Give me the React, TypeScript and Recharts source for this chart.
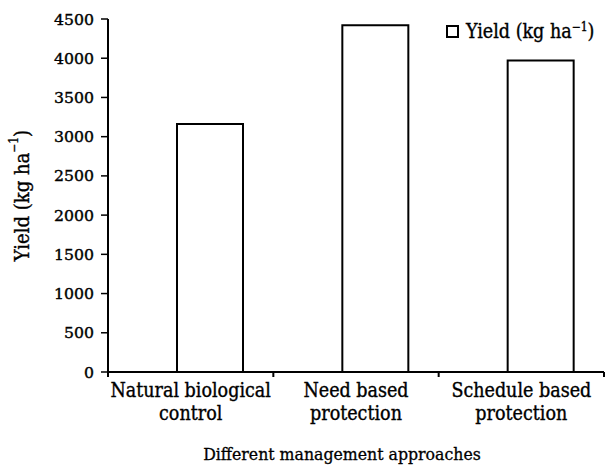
import { BarChart, Bar, XAxis, YAxis } from 'recharts';

const categories = ['Natural biological\ncontrol', 'Need based\nprotection', 'Schedule based\nprotection'];
const yieldValues = [3160, 4420, 3970];
const yTicks = [0, 500, 1000, 1500, 2000, 2500, 3000, 3500, 4000, 4500];

const WIDTH = 608;
const HEIGHT = 468;
const MARGIN = { top: 19, right: 4, bottom: 0, left: 0 };
const Y_AXIS_W = 108;
const X_AXIS_H = 96;
const PLOT_W = WIDTH - MARGIN.left - MARGIN.right - Y_AXIS_W;
const BAND = PLOT_W / categories.length;
const FONT = '"DejaVu Serif Condensed", "DejaVu Serif", serif';
const TEXT_STYLE = { fontFamily: FONT, fontStretch: 'condensed' as const };

const data = categories.map((name, i) => ({ name, yield: yieldValues[i] }));

// ticks at category boundaries, labels centered in the band
function XTick(props: any) {
  const { x, y, payload, index } = props;
  const lines = String(payload.value).split('\n');
  const right = x + BAND / 2;
  return (
    <g>
      {index === 0 && (
        <line x1={x - BAND / 2} x2={x - BAND / 2} y1={y} y2={y + 5} stroke="#000" strokeWidth={2} />
      )}
      <line x1={right} x2={right} y1={y} y2={y + 5} stroke="#000" strokeWidth={2} />
      <text
        x={x}
        y={y}
        textAnchor="middle"
        style={TEXT_STYLE}
        fontSize={19.5}
        fill="#000"
        stroke="#000"
        strokeWidth={0.35}
      >
        {lines.map((l, i) => (
          <tspan key={i} x={x} dy={i === 0 ? 25 : 23}>
            {l}
          </tspan>
        ))}
      </text>
    </g>
  );
}

function YTick(props: any) {
  const { x, y, payload } = props;
  const label = String(payload.value);
  return (
    <text
      x={x}
      y={y}
      dy={5.5}
      textAnchor="end"
      style={TEXT_STYLE}
      fontSize={15}
      fill="#000"
      stroke="#000"
      strokeWidth={0.35}
      textLength={label.length * 10}
      lengthAdjust="spacingAndGlyphs"
    >
      {label}
    </text>
  );
}

function YTitle(props: any) {
  const { viewBox } = props;
  const cx = 22;
  const cy = viewBox.y + viewBox.height / 2;
  return (
    <text
      x={cx}
      y={cy}
      transform={`rotate(-90, ${cx}, ${cy})`}
      textAnchor="middle"
      dominantBaseline="central"
      style={TEXT_STYLE}
      fontSize={20}
      fill="#000"
      stroke="#000"
      strokeWidth={0.35}
    >
      Yield (kg ha
      <tspan dy={-8} fontSize={12}>−1</tspan>
      <tspan dy={8}>)</tspan>
    </text>
  );
}

function XTitle(props: any) {
  const { viewBox } = props;
  return (
    <text
      x={viewBox.x + viewBox.width / 2 - 14}
      y={460}
      textAnchor="middle"
      style={TEXT_STYLE}
      fontSize={17.5}
      fill="#000"
      stroke="#000"
      strokeWidth={0.3}
    >
      Different management approaches
    </text>
  );
}

function LegendBox() {
  return (
    <div
      style={{
        position: 'absolute',
        left: 446,
        top: 20,
        display: 'flex',
        alignItems: 'center',
        fontFamily: FONT,
        fontStretch: 'condensed',
        fontSize: 19.5,
        color: '#000',
        whiteSpace: 'nowrap',
        WebkitTextStroke: '0.35px #000',
      }}
    >
      <span style={{ display: 'inline-block', width: 9, height: 9, border: '2px solid #000', marginRight: 7 }} />
      <span>
        Yield (kg ha<span style={{ fontSize: 12, verticalAlign: 'super', lineHeight: 0 }}>−1</span>)
      </span>
    </div>
  );
}

export default function App() {
  return (
    <div style={{ position: 'absolute', left: 0, top: 0, width: WIDTH, height: HEIGHT, background: '#fff' }}>
      <BarChart
        width={WIDTH}
        height={HEIGHT}
        data={data}
        margin={MARGIN}
        barCategoryGap={30}
        barGap={-27}
      >
        <XAxis
          dataKey="name"
          height={X_AXIS_H}
          tickLine={false}
          tickSize={0}
          tickMargin={0}
          interval={0}
          axisLine={{ stroke: '#000', strokeWidth: 2 }}
          tick={<XTick />}
          label={<XTitle />}
        />
        <YAxis
          width={Y_AXIS_W}
          domain={[0, 4500]}
          ticks={yTicks}
          interval={0}
          tickSize={7}
          tickMargin={7}
          axisLine={{ stroke: '#000', strokeWidth: 2 }}
          tickLine={{ stroke: '#000', strokeWidth: 1.5 }}
          tick={<YTick />}
          label={<YTitle />}
        />
        {/* empty slot so the visible bar sits right of the band centre */}
        <Bar dataKey="spacer" fill="none" stroke="none" legendType="none" isAnimationActive={false} />
        <Bar dataKey="yield" name="Yield" fill="#fff" stroke="#000" strokeWidth={2} isAnimationActive={false} />
      </BarChart>
      <LegendBox />
    </div>
  );
}
